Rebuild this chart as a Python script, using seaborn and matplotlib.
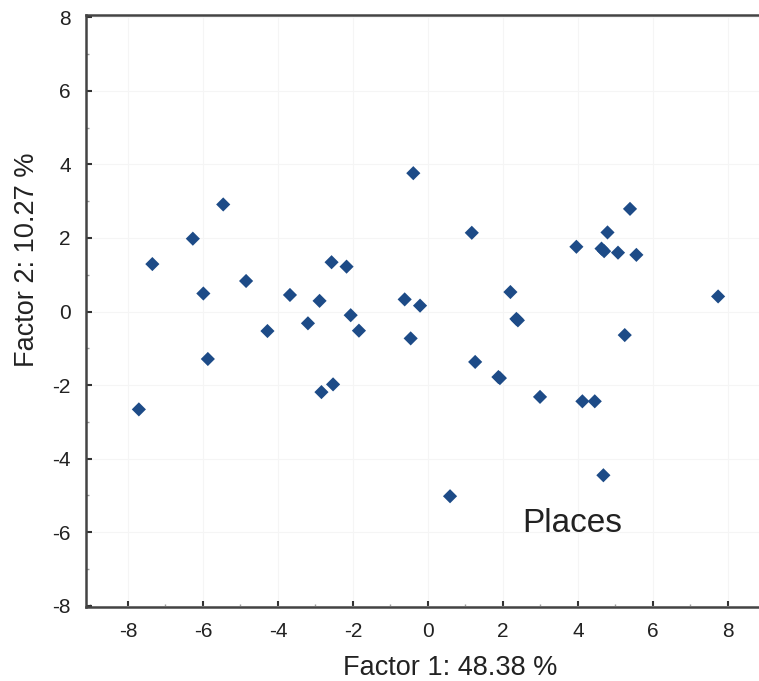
import matplotlib
matplotlib.use('Agg')
import matplotlib.pyplot as plt
from matplotlib.ticker import MultipleLocator
import pandas as pd
import seaborn as sns

# Factor scores of the places
factor1 = [-7.71, -7.35, -6.27, -5.46, -5.99, -5.87, -4.85, -4.28, -3.68, -3.20,
           -2.89, -2.57, -2.17, -2.06, -1.84, -2.84, -2.53, -0.39, 1.17, 5.39,
           4.79, 3.96, 4.63, 4.70, 5.07, 5.56, -0.62, -0.21, 2.20, 2.36,
           2.40, 7.74, -0.46, 5.25, 1.26, 1.92, 1.88, 2.99, 4.12, 4.45,
           4.68, 0.59]
factor2 = [-2.66, 1.29, 1.98, 2.91, 0.49, -1.29, 0.83, -0.53, 0.45, -0.32,
           0.29, 1.34, 1.22, -0.10, -0.52, -2.19, -1.98, 3.76, 2.14, 2.79,
           2.15, 1.76, 1.71, 1.64, 1.60, 1.54, 0.33, 0.16, 0.53, -0.20,
           -0.24, 0.41, -0.73, -0.64, -1.37, -1.81, -1.78, -2.32, -2.44, -2.44,
           -4.45, -5.02]

df = pd.DataFrame({'Factor 1': factor1, 'Factor 2': factor2})

sns.set_style('white')
plt.rcParams['font.family'] = ['Liberation Sans', 'DejaVu Sans']
plt.rcParams['axes.unicode_minus'] = False

fig = plt.figure(figsize=(7.59, 6.81), dpi=100)
ax = fig.add_axes([0.1133, 0.1087, 0.9, 0.8693])

sns.scatterplot(data=df, x='Factor 1', y='Factor 2', marker='D', s=52,
                color='#1d4b87', edgecolor='none', ax=ax, zorder=3)

ax.set_xlim(-9.12, 9.1)
ax.set_ylim(-8.03, 8.06)
ax.xaxis.set_major_locator(MultipleLocator(2))
ax.yaxis.set_major_locator(MultipleLocator(2))
ax.xaxis.set_minor_locator(MultipleLocator(1))
ax.yaxis.set_minor_locator(MultipleLocator(1))
ax.grid(True, which='major', color='#f5f5f5', linewidth=0.8)
ax.set_axisbelow(True)

ax.tick_params(which='both', bottom=True, left=True, top=False, right=False)
ax.tick_params(which='major', direction='in', length=4, width=1.5,
               color='#333333', labelsize=15, labelcolor='#222222', pad=11)
ax.tick_params(which='minor', direction='in', length=2.5, width=1,
               color='#999999')

for side in ['left', 'bottom', 'top', 'right']:
    ax.spines[side].set_color('#444444')
    ax.spines[side].set_linewidth(1.8)

# axis titles sit a little off-centre in the original
ax.set_xlabel('Factor 1: 48.38 %', fontsize=19.5, color='#222222')
ax.set_ylabel('Factor 2: 10.27 %', fontsize=19.5, color='#222222')
ax.xaxis.label.set_va('center')
ax.yaxis.label.set_va('center')
ax.xaxis.set_label_coords(0.533, -0.103)
ax.yaxis.set_label_coords(-0.0864, 0.586)

ax.text(3.84, -5.75, 'Places', fontsize=24, color='#222222',
        ha='center', va='center')

fig.savefig('out.png', dpi=100)
